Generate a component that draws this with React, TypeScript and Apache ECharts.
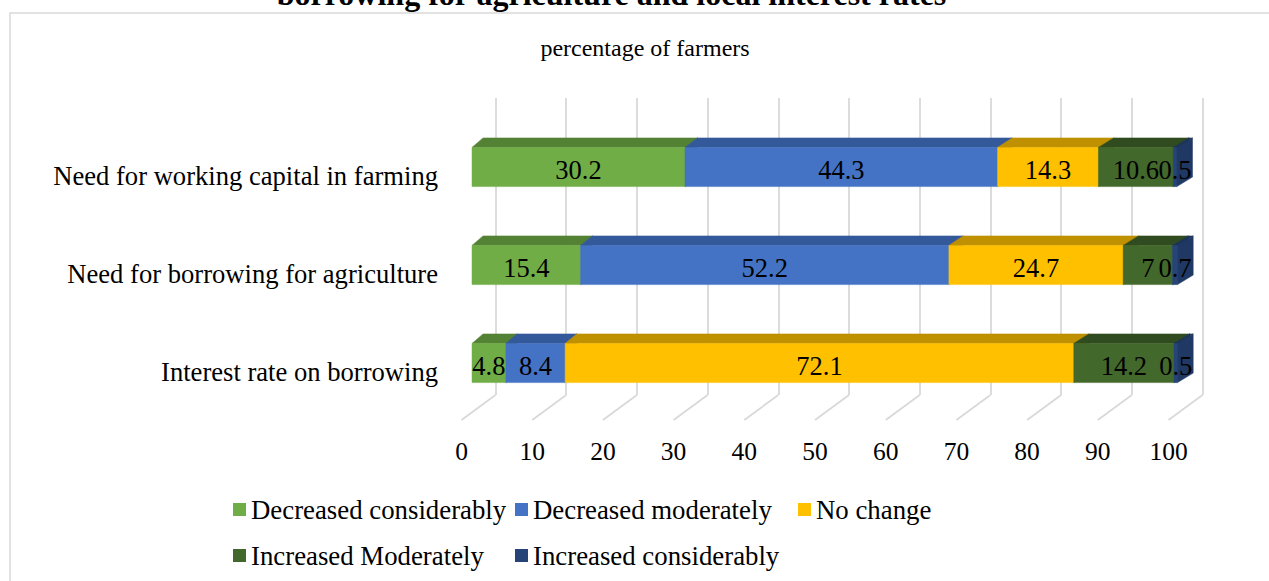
import React, { useEffect, useRef } from "react";
import * as echarts from "echarts";

const categories = [
  "Need for working capital in farming",
  "Need for borrowing for agriculture",
  "Interest rate on borrowing",
];
const seriesNames = [
  "Decreased considerably",
  "Decreased moderately",
  "No change",
  "Increased Moderately",
  "Increased considerably",
];
const decreasedConsiderably = [30.2, 15.4, 4.8];
const decreasedModerately = [44.3, 52.2, 8.4];
const noChange = [14.3, 24.7, 72.1];
const increasedModerately = [10.6, 7, 14.2];
const increasedConsiderably = [0.5, 0.7, 0.5];
const xTicks = [0, 10, 20, 30, 40, 50, 60, 70, 80, 90, 100];

const FONT = "'Liberation Serif', 'Times New Roman', serif";
const frontColors = ["#70AD47", "#4472C4", "#FFC000", "#43682B", "#264478"];
const topColors = ["#548235", "#34599B", "#BF9000", "#304B1F", "#1C335A"];
const sideColors = ["#4B7530", "#2E5090", "#B08500", "#2A421B", "#1F3864"];
const legendPos = [
  { left: 233, top: 496 },
  { left: 515, top: 496 },
  { left: 798, top: 496 },
  { left: 233, top: 542 },
  { left: 515, top: 542 },
];

const allSeries = [
  decreasedConsiderably,
  decreasedModerately,
  noChange,
  increasedModerately,
  increasedConsiderably,
];

function makeBarRenderer(si: number) {
  return (params: any, api: any) => {
    const start = api.value(0);
    const val = api.value(1);
    const cat = api.value(2);
    const a = api.coord([start, cat]);
    const b = api.coord([start + val, cat]);
    const z0 = api.coord([0, cat]);
    const z100 = api.coord([100, cat]);
    const band = api.size([0, 1])[1];
    const h = band * 0.4;
    const yt = a[1] - h / 2;
    const yb = a[1] + h / 2;
    const dxAt = (x: number) => 11 + (4.7 * (x - z0[0])) / (z100[0] - z0[0]);
    const dy = -9.5;
    const x0 = a[0];
    const x1 = b[0];
    const d0 = dxAt(x0);
    const d1 = dxAt(x1);
    return {
      type: "group",
      children: [
        {
          type: "polygon",
          shape: {
            points: [
              [x0, yt],
              [x1, yt],
              [x1 + d1, yt + dy],
              [x0 + d0, yt + dy],
            ],
          },
          style: { fill: topColors[si], stroke: topColors[si], lineWidth: 0.5 },
        },
        {
          type: "polygon",
          shape: {
            points: [
              [x1, yt],
              [x1 + d1, yt + dy],
              [x1 + d1, yb + dy],
              [x1, yb],
            ],
          },
          style: { fill: sideColors[si], stroke: sideColors[si], lineWidth: 0.5 },
        },
        {
          type: "rect",
          shape: { x: x0, y: yt, width: x1 - x0, height: yb - yt },
          style: { fill: frontColors[si], stroke: frontColors[si], lineWidth: 0.5 },
        },
        {
          type: "text",
          z2: 100,
          x: (x0 + x1) / 2,
          y: a[1] + 2.5,
          style: {
            text: String(val),
            fill: "#000",
            font: `26.5px ${FONT}`,
            align: "center",
            verticalAlign: "middle",
          },
        },
      ],
    };
  };
}

export default function App() {
  const ref = useRef<HTMLDivElement>(null);
  useEffect(() => {
    if (!ref.current) return;
    const chart = echarts.init(ref.current, undefined, { renderer: "svg" });

    const starts = categories.map(() => 0);
    const barSeries = allSeries.map((arr, si) => {
      const data = arr.map((v, ci) => {
        const s = starts[ci];
        starts[ci] += v;
        return [s, v, ci];
      });
      return {
        type: "custom",
        name: seriesNames[si],
        xAxisIndex: 0,
        yAxisIndex: 0,
        itemStyle: { color: frontColors[si] },
        encode: { x: [0], y: 2 },
        renderItem: makeBarRenderer(si),
        data,
      };
    });

    const option: any = {
      animation: false,
      graphic: [
        {
          type: "rect",
          shape: { x: 10, y: 13, width: 1300, height: 620 },
          style: { fill: "none", stroke: "#D9D9D9", lineWidth: 1.5 },
          silent: true,
        },
        {
          type: "text",
          x: 611.5,
          y: -6,
          style: {
            text: "borrowing for agriculture and local interest rates",
            fill: "#000",
            font: `bold 32px ${FONT}`,
            align: "center",
            verticalAlign: "middle",
          },
        },
        {
          type: "text",
          x: 645,
          y: 48,
          style: {
            text: "percentage of farmers",
            fill: "#000",
            font: `24px ${FONT}`,
            align: "center",
            verticalAlign: "middle",
          },
        },
      ],
      legend: seriesNames.map((n, i) => ({
        data: [{ name: n, icon: "rect" }],
        left: legendPos[i].left,
        top: legendPos[i].top,
        padding: 0,
        itemWidth: 13,
        itemHeight: 13,
        selectedMode: false,
        textStyle: { fontFamily: FONT, fontSize: 26.8, color: "#000", lineHeight: 26 },
      })),
      grid: [
        { left: 472, right: 91.5, top: 118, bottom: 169 },
        { left: 495.5, right: 66.5, top: 98, bottom: 186 },
        { left: 461.5, right: 100.5, top: 400, bottom: 161 },
      ],
      xAxis: [
        { gridIndex: 0, type: "value", min: 0, max: 100, show: false },
        {
          gridIndex: 1,
          type: "value",
          min: 0,
          max: 100,
          interval: 10,
          axisLine: { show: false },
          axisTick: { show: false },
          axisLabel: { show: false },
          splitLine: { show: true, lineStyle: { color: "#D9D9D9", width: 1.8 } },
        },
        {
          gridIndex: 2,
          type: "value",
          min: 0,
          max: 100,
          interval: 10,
          axisLine: { show: false },
          axisTick: { show: false },
          splitLine: { show: false },
          axisLabel: {
            margin: 18,
            fontFamily: FONT,
            fontSize: 25.5,
            color: "#000",
            formatter: (v: number) => String(v),
          },
        },
      ],
      yAxis: [
        {
          gridIndex: 0,
          type: "category",
          data: categories,
          inverse: true,
          axisLine: { show: false },
          axisTick: { show: false },
          splitLine: { show: false },
          axisLabel: {
            margin: 34,
            fontFamily: FONT,
            fontSize: 26.6,
            color: "#000",
            verticalAlign: "top",
            lineHeight: 17,
          },
        },
        { gridIndex: 1, type: "value", min: 0, max: 1, show: false },
        { gridIndex: 2, type: "value", min: 0, max: 1, show: false },
      ],
      series: [
        {
          type: "custom",
          name: "floor",
          xAxisIndex: 1,
          yAxisIndex: 1,
          silent: true,
          data: xTicks.map((v) => [v, 0]),
          encode: { x: 0, y: 1 },
          renderItem: (params: any, api: any) => {
            const p = api.coord([api.value(0), 0]);
            return {
              type: "line",
              shape: { x1: p[0], y1: p[1], x2: p[0] - 34, y2: p[1] + 25 },
              style: { stroke: "#D9D9D9", lineWidth: 1.8 },
            };
          },
        },
        ...barSeries,
      ],
    };
    chart.setOption(option);
    return () => chart.dispose();
  }, []);
  return (
    <div
      ref={ref}
      style={{ position: "fixed", left: 0, top: 0, width: 1269, height: 581, background: "#fff" }}
    />
  );
}
